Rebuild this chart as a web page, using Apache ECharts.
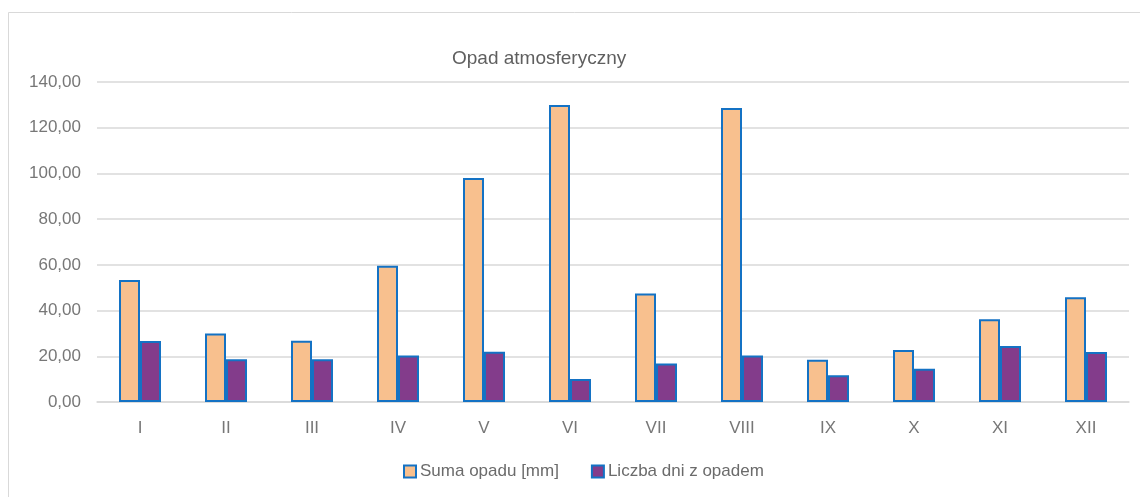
<!DOCTYPE html>
<html><head><meta charset="utf-8">
<script src="https://cdn.jsdelivr.net/npm/echarts@6/dist/echarts.min.js"></script>
<style>html,body{margin:0;padding:0;background:#fff}#c{width:1140px;height:497px}</style>
</head><body><div id="c"></div>
<script>
const categories = ['I','II','III','IV','V','VI','VII','VIII','IX','X','XI','XII'];
const sumaOpadu = [53.4, 30.0, 26.8, 59.6, 98.0, 129.9, 47.5, 128.6, 18.5, 22.7, 36.2, 45.8];
const liczbaDni = [26.7, 18.7, 18.7, 20.3, 22.0, 10.1, 16.8, 20.3, 11.7, 14.6, 24.5, 21.9];
const seriesNames = ['Suma opadu [mm]', 'Liczba dni z opadem'];
const font = 'Liberation Sans, Arial, sans-serif';
const chart = echarts.init(document.getElementById('c'), null, {renderer:'canvas'});
chart.setOption({
  animation:false,
  backgroundColor:'#fff',
  graphic:[{type:'rect',shape:{x:8.5,y:12.5,width:1140,height:500},style:{fill:'none',stroke:'#d9d9d9',lineWidth:1},silent:true,z:-1}],
  title:{text:'Opad atmosferyczny',left:447,top:44,textStyle:{fontFamily:font,fontSize:19,fontWeight:'normal',color:'#5f5f5f'}},
  legend:{top:458,left:398,icon:'rect',itemWidth:12,itemHeight:12,itemGap:32,textStyle:{fontFamily:font,fontSize:17,color:'#6b6b6b',padding:[0,0,0,-1]},data:seriesNames},
  grid:{left:97,right:11,top:82,bottom:95},
  xAxis:{type:'category',data:categories,axisTick:{show:false},axisLine:{lineStyle:{color:'#d9d9d9',width:1.5}},axisLabel:{fontFamily:font,fontSize:17,color:'#777777',margin:18}},
  yAxis:{type:'value',min:0,max:140,interval:20,axisLine:{show:false},axisTick:{show:false},splitLine:{lineStyle:{color:'#d9d9d9',width:1.5}},axisLabel:{fontFamily:font,fontSize:17,color:'#777777',margin:16,formatter:v=>v.toFixed(2).replace('.',',')}},
  series:[
    {name:seriesNames[0],type:'bar',data:sumaOpadu,barWidth:21,barGap:'0%',itemStyle:{color:'#f8c08e',borderColor:'#1472c4',borderWidth:2}},
    {name:seriesNames[1],type:'bar',data:liczbaDni,barWidth:21,itemStyle:{color:'#833c8b',borderColor:'#1472c4',borderWidth:2}}
  ]
});
</script></body></html>
